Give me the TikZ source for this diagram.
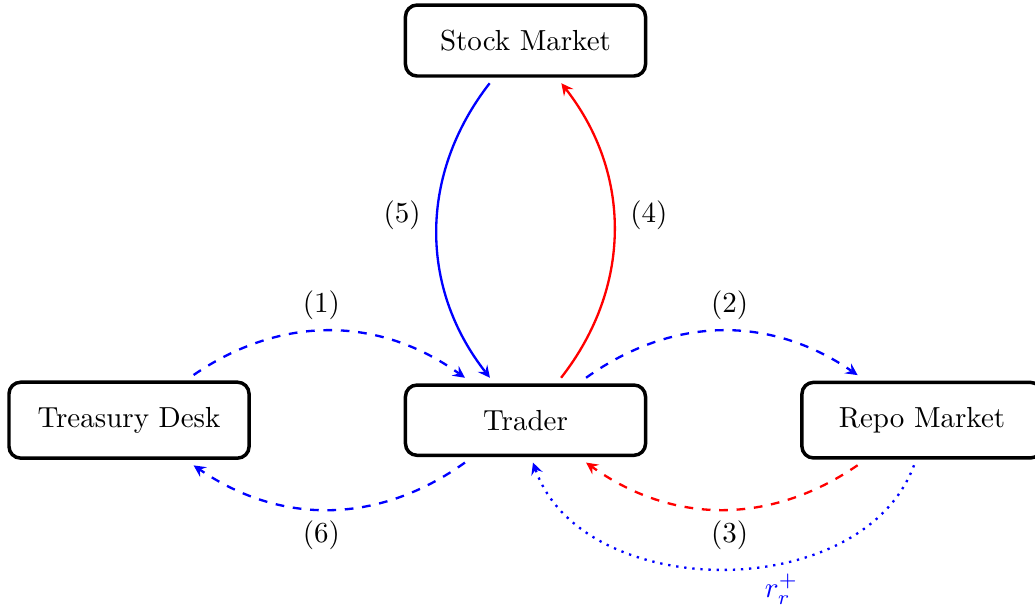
\documentclass[tikz,border=0pt]{standalone}
\usetikzlibrary{positioning}
\tikzset{
  market/.style={draw=black,very thick,rounded corners,minimum width=2.91cm,inner ysep=8.6pt,outer sep=2.5pt},
  cash/.style={thick,dashed,->,>=stealth},
  stockleg/.style={thick,->,>=stealth},
  rate/.style={thick,dotted,->,>=stealth}
}
\begin{document}
\begin{tikzpicture}[node distance=3.57cm and 1.72cm]
  \useasboundingbox (-6.37,-2.288) rectangle (6.176,5.093);
  \node[market] (trader) {Trader};
  \node[market,above=of trader] (stockmkt) {Stock Market};
  \node[market,left=of trader] (treasury) {Treasury Desk};
  \node[market,right=of trader] (repo) {Repo Market};
  % cash legs
  \draw[cash,draw=blue] (treasury.35) to[bend left=35] node[pos=0.47,above] {(1)} (trader.145);
  \draw[cash,draw=blue] (trader.35) to[bend left=35] node[pos=0.53,above] {(2)} (repo.145);
  \draw[cash,draw=red] (repo.215) to[bend left=35] node[pos=0.47,below] {(3)} (trader.325);
  \draw[cash,draw=blue] (trader.215) to[bend left=35] node[pos=0.53,below] {(6)} (treasury.325);
  % stock legs
  \draw[stockleg,draw=red] (trader.50) to[bend right=38] node[pos=0.55,right=2pt] {(4)} (stockmkt.310);
  \draw[stockleg,draw=blue] (stockmkt.230) to[bend right=38] node[pos=0.45,left=2pt] {(5)} (trader.130);
  % repo rate
  \draw[rate,blue] (repo.260) to[bend left=70] node[pos=0.38,below] {$r_r^+$} (trader.280);
\end{tikzpicture}
\end{document}
